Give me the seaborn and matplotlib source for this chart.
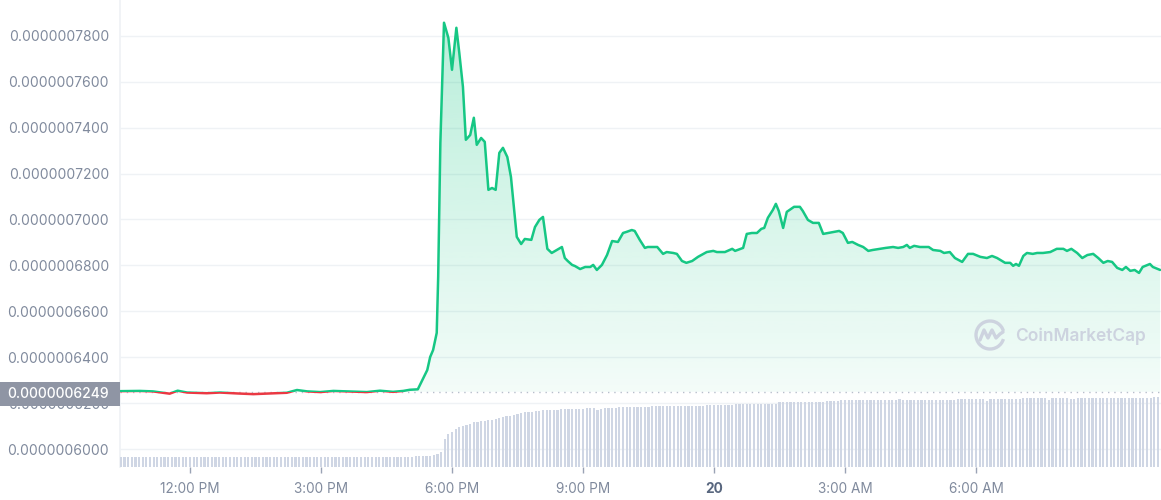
import numpy as np
import matplotlib
matplotlib.use("Agg")
import matplotlib.pyplot as plt
import seaborn as sns
from matplotlib.patches import Rectangle, PathPatch, Arc
from matplotlib.path import Path
from matplotlib.lines import Line2D
from matplotlib.colors import to_rgb
from matplotlib.ticker import FixedLocator, FuncFormatter

# ---------------- data ----------------
# price vertices: time in minutes from 12:00 PM (day 19), price in units of 1e-10
price_minutes = [-96, -69, -51, -28, -17, -4, 23, 41, 65, 87, 110, 133, 147, 161, 179,
                 197, 216, 243, 261, 279, 293, 302, 313, 326, 330, 334, 339, 341, 344,
                 349, 355, 360, 366, 370, 375, 379, 385, 390, 394, 400, 405, 410, 415,
                 420, 425, 430, 436, 441, 449, 455, 460, 469, 474, 480, 485, 491, 497,
                 511, 515, 519, 525, 529, 536, 543, 550, 554, 559, 566, 573, 580, 588,
                 595, 600, 607, 611, 618, 625, 629, 642, 650, 655, 664, 669, 676, 682,
                 690, 698, 710, 719, 724, 735, 745, 749, 760, 765, 772, 779, 785, 789,
                 794, 801, 805, 809, 815, 820, 824, 830, 838, 842, 849, 856, 864, 870,
                 877, 886, 892, 897, 904, 910, 918, 925, 932, 938, 948, 956, 966, 973,
                 980, 985, 989, 995, 1003, 1015, 1021, 1031, 1036, 1044, 1051, 1061,
                 1069, 1076, 1086, 1095, 1102, 1109, 1120, 1127, 1131, 1135, 1139, 1145,
                 1150, 1158, 1164, 1172, 1182, 1191, 1200, 1205, 1211, 1219, 1226, 1233,
                 1241, 1248, 1255, 1261, 1267, 1274, 1281, 1286, 1292, 1298, 1304, 1309,
                 1319, 1323, 1330, 1333]
price_e10 = [6252, 6253, 6251, 6241, 6254, 6246, 6243, 6246, 6242, 6239, 6242, 6245, 6257,
             6251, 6248, 6253, 6251, 6248, 6254, 6249, 6253, 6258, 6260, 6344, 6401, 6431,
             6506, 6750, 7334, 7857, 7791, 7652, 7835, 7726, 7578, 7347, 7368, 7443, 7325,
             7355, 7338, 7129, 7137, 7129, 7290, 7312, 7272, 7185, 6924, 6893, 6915, 6911,
             6967, 6998, 7011, 6872, 6854, 6880, 6832, 6819, 6802, 6797, 6784, 6793, 6793,
             6802, 6780, 6802, 6845, 6906, 6902, 6941, 6946, 6954, 6950, 6911, 6876, 6880,
             6880, 6850, 6858, 6854, 6850, 6819, 6811, 6819, 6837, 6858, 6863, 6858, 6858,
             6872, 6863, 6876, 6937, 6941, 6941, 6959, 6963, 7007, 7042, 7068, 7037, 6963,
             7033, 7042, 7055, 7055, 7037, 6998, 6985, 6985, 6937, 6941, 6946, 6950, 6941,
             6898, 6902, 6889, 6880, 6863, 6867, 6872, 6876, 6880, 6876, 6880, 6889, 6876,
             6885, 6880, 6880, 6867, 6863, 6854, 6858, 6832, 6815, 6850, 6850, 6837, 6832,
             6841, 6832, 6811, 6811, 6798, 6806, 6798, 6841, 6854, 6850, 6854, 6854, 6858,
             6872, 6872, 6863, 6872, 6854, 6832, 6845, 6850, 6832, 6811, 6819, 6815, 6789,
             6780, 6793, 6776, 6780, 6767, 6793, 6806, 6793, 6784, 6780]
baseline_e10 = 6249  # reference price shown in the grey label

# volume bars (arbitrary units), one per 5 minutes starting at -95 min
vol_start_min = -95
vol_step_min = 5
volume = ([10] * 81 + [11] * 5 + [12, 13, 15] +
          [28, 33, 35, 38, 40, 41, 42, 43, 45] +
          [45, 46, 46, 47, 47, 48, 49, 50, 51, 51, 52, 53, 54, 55, 55, 55, 56, 56, 57] +
          [57] * 4 + [58] * 7 + [59] * 3 + [57] + [58] + [59] * 4 + [60] * 9 +
          [61] * 15 + [62] * 8 + [63] * 12 + [65] * 13 + [66] * 4 + [67] * 16 + [68] +
          [67] * 15 + [68] * 8 + [66] + [68] * 9 + [69] * 7 + [67] + [69] * 5 +
          [68] * 2 + [69] * 21 + [70] * 2)

x_tick_minutes = [0, 180, 360, 540, 720, 900, 1080]
x_tick_labels = ["12:00 PM", "3:00 PM", "6:00 PM", "9:00 PM", "20", "3:00 AM", "6:00 AM"]
y_ticks_e10 = [6000, 6200, 6400, 6600, 6800, 7000, 7200, 7400, 7600, 7800]

# ---------------- style ----------------
sns.set_theme(style="white")
plt.rcParams['font.family'] = ['Inter', 'DejaVu Sans']

GREEN = "#16c784"
RED = "#ea3943"
GRAY_TXT = "#808a9d"
GRID = "#eff2f5"

W, H = 1161, 500
fig = plt.figure(figsize=(W / 100, H / 100), dpi=100)
ax = fig.add_axes([120 / W, 33 / H, 1041 / W, 467 / H])

price = np.array(price_e10) * 1e-10
tmin = np.array(price_minutes, dtype=float)
base = baseline_e10 * 1e-10

XMIN, XMAX = -96.2, 1334.2
YMIN, YMAX = 5921.6e-10, 7956e-10

# volume on a twin axis
ax2 = ax.twinx()
vol_x = vol_start_min + vol_step_min * np.arange(len(volume))
ax2.bar(vol_x, volume, width=3.0, color="#cfd6e4", linewidth=0, align="center")
ax2.set_ylim(0, 467)
ax2.set_yticks([])
for s in ax2.spines.values():
    s.set_visible(False)

# gradient fill under price line
top = price.max()
grad = np.zeros((256, 1, 4))
grad[:, :, :3] = to_rgb(GREEN)
grad[:, 0, 3] = np.linspace(0.0, 0.30, 256)
im = ax.imshow(grad, aspect="auto", extent=[XMIN, XMAX, YMIN, top],
               origin="lower", zorder=1, interpolation="bilinear")
upper = np.maximum(price, base)
verts = list(zip(tmin, upper)) + [(tmin[-1], base), (tmin[0], base), (tmin[0], upper[0])]
codes = [Path.MOVETO] + [Path.LINETO] * (len(verts) - 2) + [Path.CLOSEPOLY]
clip = PathPatch(Path(verts, codes), transform=ax.transData, facecolor="none",
                 edgecolor="none")
ax.add_patch(clip)
im.set_clip_path(clip)

# price line: green above baseline, red below
sns.lineplot(x=tmin, y=price, ax=ax, color=GREEN, linewidth=1.8, zorder=4)
gline = ax.lines[-1]
gline.set_clip_path(Rectangle((XMIN - 50, base), XMAX - XMIN + 100, 1e-6,
                              transform=ax.transData))
sns.lineplot(x=tmin, y=price, ax=ax, color=RED, linewidth=1.8, zorder=4)
rline = ax.lines[-1]
rline.set_clip_path(Rectangle((XMIN - 50, base - 1e-6), XMAX - XMIN + 100, 1e-6,
                              transform=ax.transData))
gline.set_solid_joinstyle("round")

# dotted reference line
ax.axhline(base, color="#b8bfcc", linestyle=(0, (1, 3.5)), linewidth=1.0, zorder=3)

ax.set_xlim(XMIN, XMAX)
ax.set_ylim(YMIN, YMAX)

ax.yaxis.set_major_locator(FixedLocator(np.array(y_ticks_e10) * 1e-10))
ax.yaxis.set_major_formatter(FuncFormatter(lambda v, p: f"{v:.10f}"))
ax.set_xticks(x_tick_minutes)
ax.set_xticklabels(x_tick_labels)
ax.tick_params(axis="y", length=0, pad=8, labelsize=10, labelcolor=GRAY_TXT)
ax.tick_params(axis="x", length=4, width=1, color="#9aa3b5", pad=7, labelsize=9.8,
               labelcolor=GRAY_TXT, direction="out", bottom=True)
for lab in ax.get_xticklabels():
    if lab.get_text() == "20":
        lab.set_fontweight("bold")
        lab.set_color("#58667e")
ax.grid(axis="y", color=GRID, linewidth=1)
ax.grid(axis="x", visible=False)
ax.set_axisbelow(True)
for name, s in ax.spines.items():
    s.set_visible(name == "left")
ax.spines["left"].set_color(GRID)
ax.set_xlabel("")
ax.set_ylabel("")

# current-price label box at the left
fig.patches.append(Rectangle((0, 1 - 406 / H), 120 / W, 24 / H, transform=fig.transFigure,
                             facecolor="#8f95a4", edgecolor="none", zorder=5))
fig.text(109 / W, 1 - 393.5 / H, f"{baseline_e10 * 1e-10:.10f}", ha="right", va="center",
         color="white", fontsize=10, fontweight="medium", zorder=6)

# watermark
wm = "#cdd3df"
fig.text(1015 / W, 1 - 336 / H, "CoinMarketCap", ha="left", va="center", color=wm,
         fontsize=12.5, fontweight="semibold", zorder=6)
fig.add_artist(Arc((990 / W, 1 - 335 / H), 28 / W, 28 / H, theta1=35, theta2=325,
                   transform=fig.transFigure, color=wm, linewidth=2.4))
mx = np.array([980, 984, 988, 992, 996, 1000, 1003]) / W
my = 1 - np.array([340, 330, 338, 330, 338, 334, 332]) / H
fig.add_artist(Line2D(mx, my, transform=fig.transFigure, color=wm, linewidth=2.4))

fig.savefig("out.png", dpi=100)
